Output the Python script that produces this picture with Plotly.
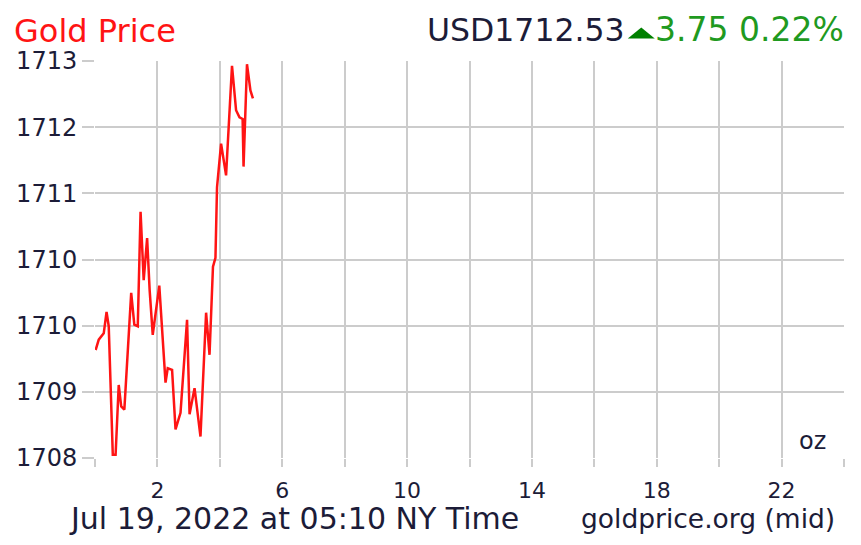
import plotly.graph_objects as go

# Data (hours since midnight NY time, price in USD/oz)
hours = [0.02, 0.12, 0.28, 0.37, 0.44, 0.57, 0.66, 0.76, 0.84, 0.94,
         1.16, 1.26, 1.37, 1.46, 1.56, 1.67, 1.75, 1.85, 2.06, 2.26,
         2.33, 2.47, 2.58, 2.74, 2.95, 3.03, 3.19, 3.38, 3.56, 3.67,
         3.78, 3.86, 3.91, 4.04, 4.20, 4.39, 4.52, 4.63, 4.73, 4.76,
         4.87, 4.98, 5.06]
prices = [1709.36, 1709.49, 1709.57, 1709.84, 1709.66, 1708.04, 1708.04, 1708.92, 1708.65, 1708.61,
          1710.08, 1709.68, 1709.66, 1711.10, 1710.24, 1710.77, 1710.12, 1709.55, 1710.17, 1708.95,
          1709.13, 1709.11, 1708.36, 1708.57, 1709.74, 1708.55, 1708.88, 1708.27, 1709.83, 1709.30,
          1710.41, 1710.52, 1711.41, 1711.96, 1711.56, 1712.94, 1712.38, 1712.29, 1712.27, 1711.67,
          1712.96, 1712.63, 1712.53]

x_grid_vals = [0, 2, 4, 6, 8, 10, 12, 14, 16, 18, 20, 22, 24]
x_tick_labels = ["", "2", "", "6", "", "10", "", "14", "", "18", "", "22", ""]
y_tick_vals = [1708 + k * 5 / 6 for k in range(7)]
y_tick_labels = ["1708", "1709", "1710", "1710", "1711", "1712", "1713"]

title_text = "Gold Price"
price_text = "USD1712.53"
change_text = "3.75\u00a00.22%"
date_text = "Jul 19, 2022 at 05:10 NY Time"
source_text = "goldprice.org (mid)"
unit_text = "oz"

FONT = "DejaVu Sans"
GRID = "#cccccc"
DARK = "#1c1c38"
GREEN = "#1f9a1f"

fig = go.Figure()
fig.add_trace(go.Scatter(x=hours, y=prices, mode="lines",
                         line=dict(color="#ff1414", width=2.5), hoverinfo="skip"))

L, R, T, B = 94.5, 16.5, 60.5, 86.5
W, H = 861, 545
pw, ph = W - L - R, H - T - B

def px(xp):
    return (xp - L) / pw

def py(yp):
    return (H - B - yp) / ph

fig.update_layout(
    width=W, height=H,
    margin=dict(l=L, r=R, t=T, b=B, pad=0),
    paper_bgcolor="white", plot_bgcolor="white",
    showlegend=False,
    font=dict(family=FONT, color=DARK),
    xaxis=dict(range=[0, 24], tickmode="array", tickvals=x_grid_vals, ticktext=x_tick_labels,
               showgrid=True, gridcolor=GRID, gridwidth=2, zeroline=False,
               ticks="outside", ticklen=8, tickwidth=2, tickcolor=GRID,
               showline=False, tickfont=dict(size=22, color=DARK, family=FONT),
               ticklabelstandoff=5, fixedrange=True),
    yaxis=dict(range=[1708, 1713], tickmode="array", tickvals=y_tick_vals, ticktext=y_tick_labels,
               showgrid=True, gridcolor=GRID, gridwidth=2, zeroline=False,
               ticks="outside", ticklen=12, tickwidth=2, tickcolor=GRID,
               showline=False, tickfont=dict(size=24, color=DARK, family=FONT),
               ticklabelstandoff=0, fixedrange=True),
    shapes=[
        dict(type="path", xref="paper", yref="paper",
             path=f"M {px(628)},{py(38)} L {px(655)},{py(38)} L {px(641.5)},{py(27)} Z",
             fillcolor="#008000", line=dict(width=0)),
    ],
    annotations=[
        dict(text=title_text, xref="paper", yref="paper", x=px(11), y=py(30),
             xanchor="left", yanchor="middle", showarrow=False,
             font=dict(size=32, color="#ff1414", family=FONT)),
        dict(text=price_text, xref="paper", yref="paper", x=px(627), y=py(29),
             xanchor="right", yanchor="middle", showarrow=False,
             font=dict(size=31.5, color=DARK, family=FONT)),
        dict(text=change_text, xref="paper", yref="paper", x=px(847), y=py(29),
             xanchor="right", yanchor="middle", showarrow=False,
             font=dict(size=33, color=GREEN, family=FONT)),
        dict(text=date_text, xref="paper", yref="paper", x=px(66), y=py(519),
             xanchor="left", yanchor="middle", showarrow=False,
             font=dict(size=30, color=DARK, family=FONT)),
        dict(text=source_text, xref="paper", yref="paper", x=px(837), y=py(519),
             xanchor="right", yanchor="middle", showarrow=False,
             font=dict(size=26.5, color=DARK, family=FONT)),
        dict(text=unit_text, xref="paper", yref="paper", x=px(813), y=py(441),
             xanchor="center", yanchor="middle", showarrow=False,
             font=dict(size=24, color=DARK, family=FONT)),
    ],
)

fig.write_html("out.html", config={"displayModeBar": False},
               post_script="document.body.style.margin='0';")
